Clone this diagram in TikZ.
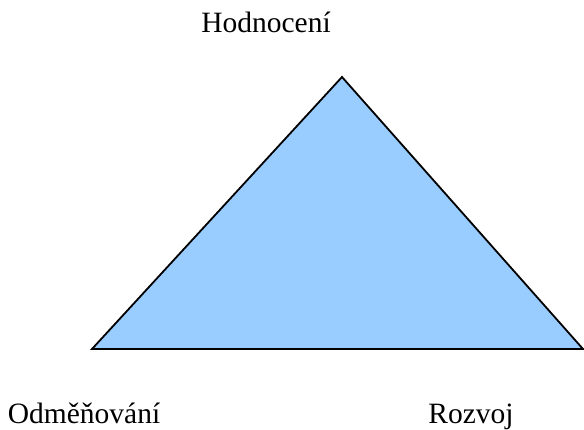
\documentclass[tikz,border=0pt]{standalone}
\usepackage{fontspec}
\setmainfont{Liberation Serif}
\usepackage{tikz}
\usetikzlibrary{positioning}
\definecolor{skyfill}{RGB}{153,204,255}
\tikzset{
  tri/.style={draw=black,line width=1.8pt,fill=skyfill,line join=miter},
  lbl/.style={anchor=base,inner sep=0pt,font=\fontsize{29.5}{35}\selectfont}
}
\begin{document}
\begin{tikzpicture}[x=1pt,y=-1pt]
  \useasboundingbox (0,0) rectangle (584,429);
  % corners of the triangle
  \coordinate (top) at (342,77);
  \coordinate (left) at (92,349);
  \coordinate (right) at (583,349);
  \draw[tri] (top) -- (left) -- (right) -- cycle;

  \node[lbl] (hod) at (266,32) {Hodnocení};
  \node[lbl] (odm) at (84,423) {Odměňování};
  \node[lbl] (roz) at (471,423) {Rozvoj};
\end{tikzpicture}
\end{document}
